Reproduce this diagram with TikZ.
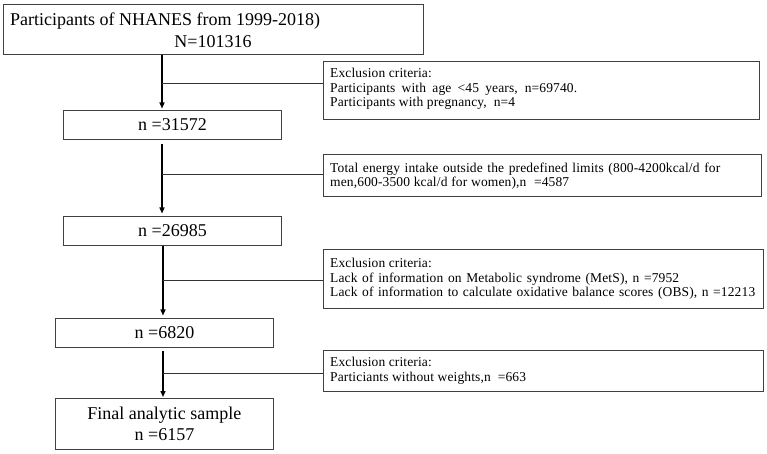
\documentclass[tikz,border=0pt]{standalone}
\usepackage{fontspec}
\setmainfont{Liberation Serif}
\usetikzlibrary{arrows.meta}
\newcommand{\spreadline}[2]{\makebox[#1bp][s]{#2}}
\begin{document}
\begin{tikzpicture}[x=1bp,y=-1bp,
  boxshape/.style={draw=black!75, line width=0.9bp, rectangle, inner sep=0pt, anchor=north west},
  bigtxt/.style={inner sep=0pt, font=\fontsize{18bp}{22bp}\selectfont},
  smalltxt/.style={inner sep=0pt, anchor=west, align=left, font=\fontsize{13.5bp}{14.6bp}\selectfont\addfontfeatures{LetterSpace=1}},
  arr/.style={draw=black, line width=1.4bp, -{Triangle[length=6bp,width=5bp]}},
  branch/.style={draw=black!80, line width=0.9bp}]
\useasboundingbox (0,0) rectangle (767,454);

% main boxes
\node[boxshape, minimum width=420bp, minimum height=50bp] (top) at (3,4) {};
\node[bigtxt, anchor=base west] (toptxtA) at (10,26) {Participants of NHANES from 1999-2018)};
\node[bigtxt, anchor=base] (toptxtB) at (213,48) {N=101316};

\node[boxshape, minimum width=218bp, minimum height=29bp] (n1) at (63,110) {};
\node[bigtxt] (n1txt) at (n1.center) {n =31572};

\node[boxshape, minimum width=218bp, minimum height=29bp] (n2) at (63,216) {};
\node[bigtxt] (n2txt) at (n2.center) {n =26985};

\node[boxshape, minimum width=218bp, minimum height=29bp] (n3) at (55,318) {};
\node[bigtxt] (n3txt) at (n3.center) {n =6820};

\node[boxshape, minimum width=218bp, minimum height=51bp] (n4) at (55,398) {};
\node[bigtxt, align=center] (n4txt) at (n4.center) {Final analytic sample\\[-1bp]n =6157};

% exclusion boxes
\node[boxshape, minimum width=436bp, minimum height=58bp] (ex1) at (323,61) {};
\node[smalltxt] (ex1txt) at (330,89) {Exclusion criteria:\\\spreadline{247}{Participants with age <45 years, n=69740.}\\Participants with pregnancy,\ \ n=4};

\node[boxshape, minimum width=438bp, minimum height=42bp] (ex2) at (323,154) {};
\node[smalltxt] (ex2txt) at (330,176) {\spreadline{390}{Total energy intake outside the predefined limits (800-4200kcal/d for}\\\spreadline{239}{men,600-3500 kcal/d for women),n \ =4587}};

\node[boxshape, minimum width=440bp, minimum height=59bp] (ex3) at (323,249) {};
\node[smalltxt] (ex3txt) at (330,279) {Exclusion criteria:\\\spreadline{349}{Lack of information on Metabolic syndrome (MetS), n =7952}\\\spreadline{425}{Lack of information to calculate oxidative balance scores (OBS), n =12213}};

\node[boxshape, minimum width=440bp, minimum height=41bp] (ex4) at (323,350) {};
\node[smalltxt] (ex4txt) at (330,371) {Exclusion criteria:\\Particiants without weights,n \ =663};

% junction coordinates
\coordinate (j1) at (162,83);
\coordinate (j2) at (162,174);
\coordinate (j3) at (163,280);
\coordinate (j4) at (163,373);

% arrows
\draw[arr, shorten >=1.5bp] (top.south -| j1) -- (n1.north -| j1);
\draw[arr, shorten <=4bp, shorten >=2.5bp] (n1.south -| j2) -- (n2.north -| j2);
\draw[arr, shorten >=2.5bp] (n2.south -| j3) -- (n3.north -| j3);
\draw[arr, shorten <=3bp, shorten >=1bp] (n3.south -| j4) -- (n4.north -| j4);

% branches
\draw[branch] (j1) -- (ex1.west |- j1);
\draw[branch] (j2) -- (ex2.west |- j2);
\draw[branch] (j3) -- (ex3.west |- j3);
\draw[branch] (j4) -- (ex4.west |- j4);
\end{tikzpicture}
\end{document}
